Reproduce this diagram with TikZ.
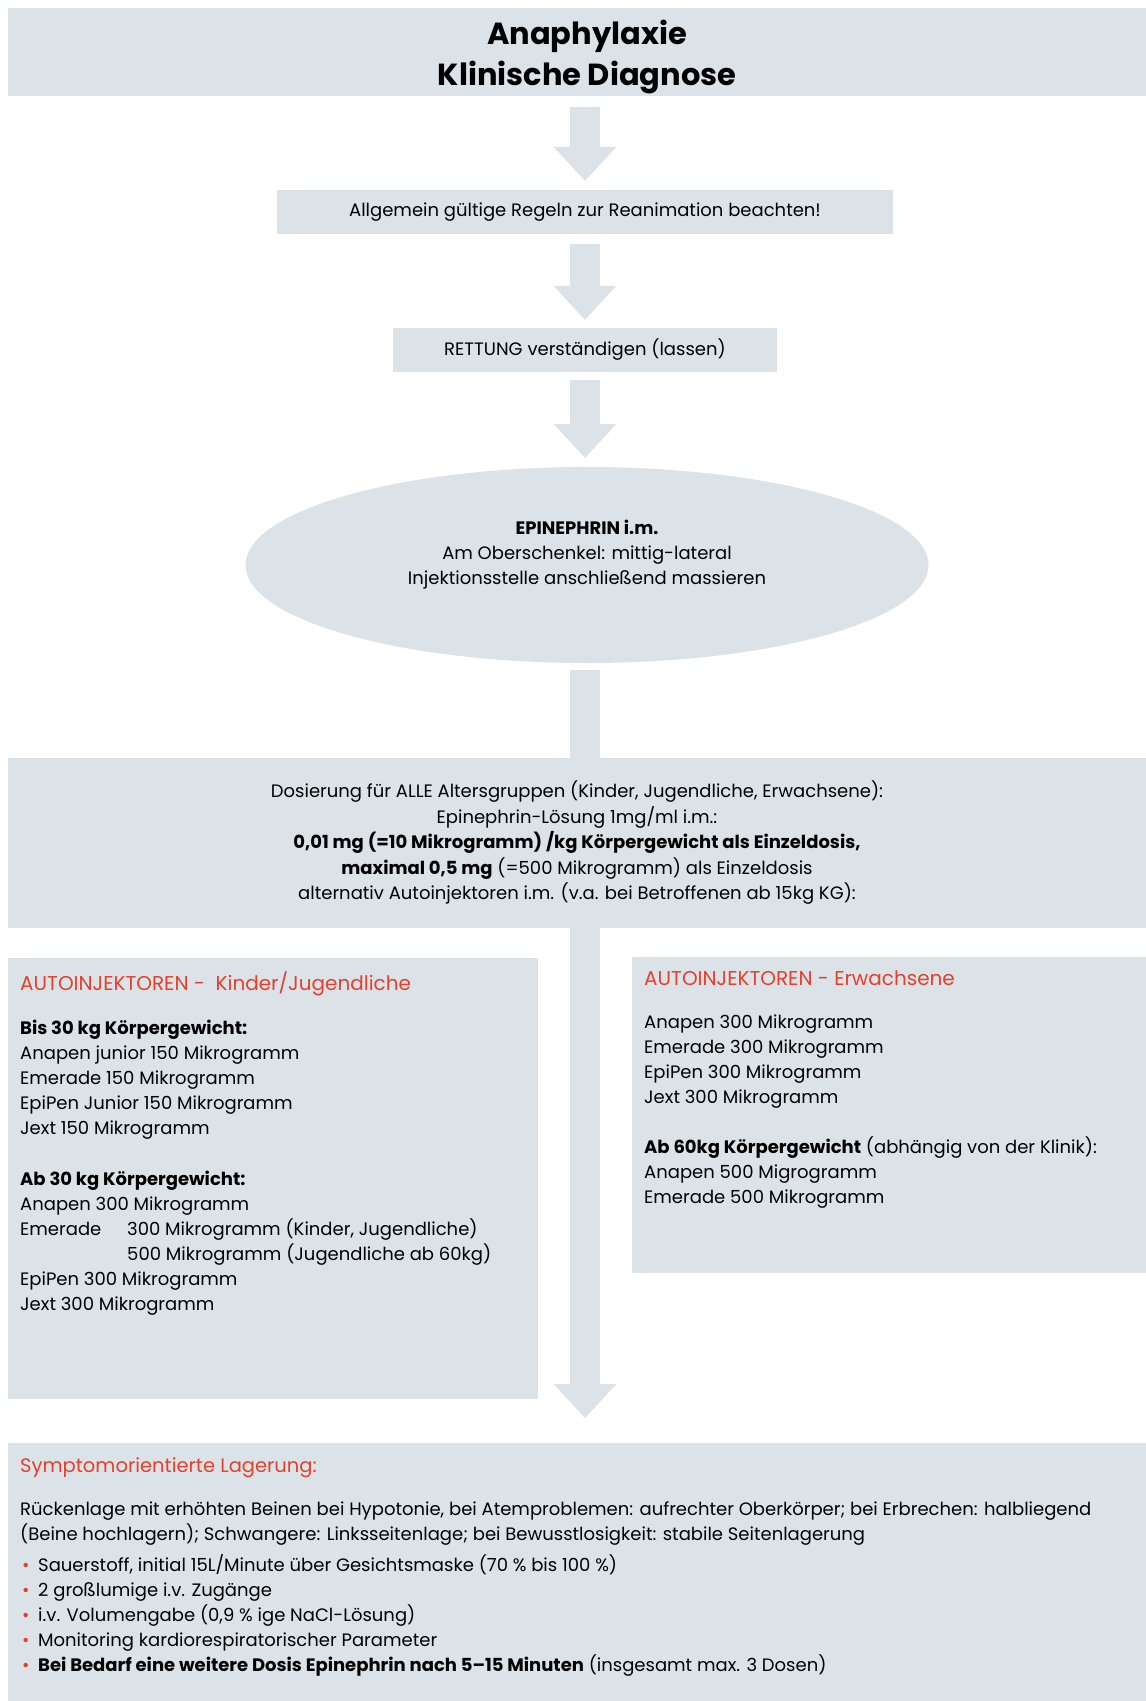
\documentclass[tikz,border=0pt]{standalone}
\usepackage{fontspec}
\setmainfont{Poppins}
\usetikzlibrary{shapes.geometric,arrows.meta}
\definecolor{boxfill}{HTML}{DCE3E8}
\definecolor{alertred}{HTML}{E2412B}
\newcommand{\headfont}{\fontsize{20}{25}\selectfont\color{alertred}}

\begin{document}
\begin{tikzpicture}
	[	x=1pt, y=-1pt,
	panel/.style={rectangle, fill=boxfill, draw=none, inner sep=0pt, align=center, font=\fontsize{18}{25.5}\selectfont},
	oval/.style={ellipse, fill=boxfill, draw=none, inner sep=0pt},
	plain/.style={draw=none, fill=none, align=center, font=\fontsize{18}{25}\selectfont},
	listing/.style={draw=none, fill=none, align=left, inner sep=0pt, anchor=north west, font=\fontsize{18}{25}\selectfont},
	flow/.style={draw=boxfill, line width=30pt, -{Triangle[width=63pt,length=34pt,line width=0pt]}},
	shaft/.style={draw=boxfill, line width=30pt}
	]
	\path[use as bounding box, fill=white] (0,0) rectangle (1146,1701);

	% steps
	\node[panel, minimum width=1138pt, minimum height=88pt] (title) at (577,52) {};
	\node[plain, font=\fontsize{30.5}{41}\selectfont\bfseries] (titletext) at (587,57) {Anaphylaxie\\Klinische Diagnose};
	\node[panel, minimum width=616pt, minimum height=44pt] (rules) at (585,212) {Allgemein gültige Regeln zur Reanimation beachten!};
	\node[panel, minimum width=384pt, minimum height=44pt] (call) at (585,350) {RETTUNG verständigen (lassen)};
	\node[oval, minimum width=683pt, minimum height=196pt] (epi) at (587,565) {};
	\node[plain] (epitext) at (587,555) {\textbf{EPINEPHRIN i.m.}\\Am Oberschenkel: mittig-lateral\\Injektionsstelle anschließend massieren};
	\node[panel, minimum width=1138pt, minimum height=170pt] (dose) at (577,843) {Dosierung für ALLE Altersgruppen (Kinder, Jugendliche, Erwachsene):\\Epinephrin-Lösung 1mg/ml i.m.:\\\textbf{0,01 mg (=10 Mikrogramm) /kg Körpergewicht als Einzeldosis,}\\\textbf{maximal 0,5 mg} (=500 Mikrogramm) als Einzeldosis\\alternativ Autoinjektoren i.m. (v.a. bei Betroffenen ab 15kg KG):};

	% autoinjectors
	\node[panel, anchor=north west, minimum width=530pt, minimum height=441pt] (kids) at (8,958) {};
	\node[listing] (kidstext) at (20,971) {{\headfont AUTOINJEKTOREN -\ \ Kinder/Jugendliche}\\[19pt]
		\textbf{Bis 30 kg Körpergewicht:}\\
		Anapen junior 150 Mikrogramm\\
		Emerade 150 Mikrogramm\\
		EpiPen Junior 150 Mikrogramm\\
		Jext 150 Mikrogramm\\[26pt]
		\textbf{Ab 30 kg Körpergewicht:}\\
		Anapen 300 Mikrogramm\\
		\makebox[107pt][l]{Emerade}300 Mikrogramm (Kinder, Jugendliche)\\
		\hspace*{107pt}500 Mikrogramm (Jugendliche ab 60kg)\\
		EpiPen 300 Mikrogramm\\
		Jext 300 Mikrogramm};
	\node[panel, anchor=north west, minimum width=514pt, minimum height=316pt] (adults) at (632,957) {};
	\node[listing] (adultstext) at (644,970) {{\headfont AUTOINJEKTOREN - Erwachsene}\\[18pt]
		Anapen 300 Mikrogramm\\
		Emerade 300 Mikrogramm\\
		EpiPen 300 Mikrogramm\\
		Jext 300 Mikrogramm\\[25pt]
		\textbf{Ab 60kg Körpergewicht} (abhängig von der Klinik):\\
		Anapen 500 Migrogramm\\
		Emerade 500 Mikrogramm};

	% care
	\node[panel, anchor=north west, minimum width=1138pt, minimum height=258pt] (care) at (8,1443) {};
	\node[listing] (caretext) at (20,1457) {{\headfont\fontsize{19.5}{25}\selectfont Symptomorientierte Lagerung:}\\[18pt]
		Rückenlage mit erhöhten Beinen bei Hypotonie, bei Atemproblemen: aufrechter Oberkörper; bei Erbrechen: halbliegend\\
		(Beine hochlagern); Schwangere: Linksseitenlage; bei Bewusstlosigkeit: stabile Seitenlagerung\\[6pt]
		\makebox[18pt][l]{\hspace{2pt}\color{alertred}\textbullet}Sauerstoff, initial 15L/Minute über Gesichtsmaske (70 \% bis 100 \%)\\
		\makebox[18pt][l]{\hspace{2pt}\color{alertred}\textbullet}2 großlumige i.v. Zugänge\\
		\makebox[18pt][l]{\hspace{2pt}\color{alertred}\textbullet}i.v. Volumengabe (0,9 \% ige NaCl-Lösung)\\
		\makebox[18pt][l]{\hspace{2pt}\color{alertred}\textbullet}Monitoring kardiorespiratorischer Parameter\\
		\makebox[18pt][l]{\hspace{2pt}\color{alertred}\textbullet}\textbf{Bei Bedarf eine weitere Dosis Epinephrin nach 5–15 Minuten} (insgesamt max. 3 Dosen)};

	% arrows
	\draw[flow, shorten <=11pt, shorten >=9pt] (rules.north |- title.south) -- (rules.north);
	\draw[flow, shorten <=10pt, shorten >=8pt] (rules.south) -- (call.north);
	\draw[flow, shorten <=8pt, shorten >=9pt] (call.south) -- (call.south |- epi.north);
	\draw[shaft, shorten <=7pt] (epi.south -| rules.south) -- (dose.north -| rules.south);
	\draw[flow, shorten >=25pt] (dose.south -| rules.south) -- (care.north -| rules.south);
\end{tikzpicture}
\end{document}
